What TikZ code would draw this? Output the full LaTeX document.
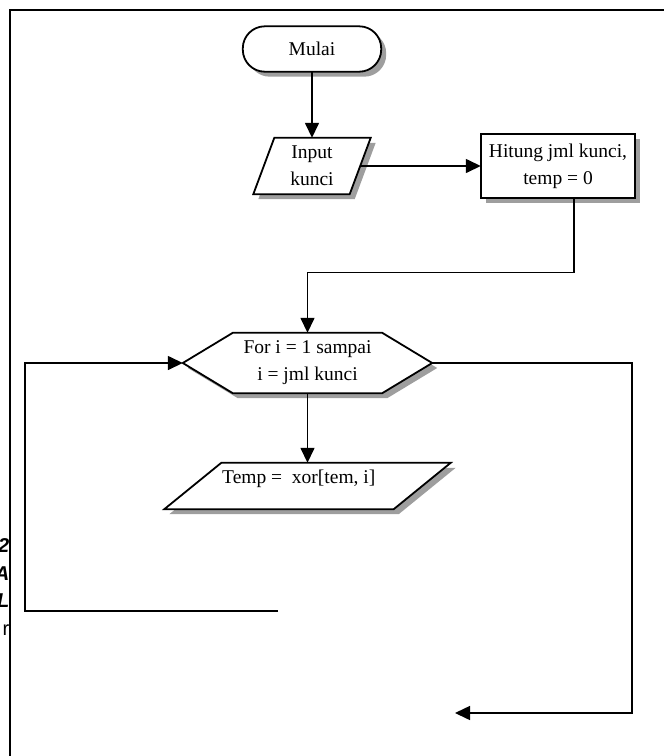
\documentclass[tikz,border=0pt]{standalone}
\usepackage{fontspec}
\setmainfont{Liberation Serif}
\newfontfamily\fragfont{Liberation Sans}
\usetikzlibrary{arrows.meta,positioning}
\pgfdeclarelayer{back}
\pgfsetlayers{back,main}
\tikzset{
	arr/.style={line width=1.5pt,-{Triangle[length=15pt,width=14pt]}},
	frame/.style={line width=2pt},
	txt/.style={font=\fontsize{19.5}{27}\selectfont,align=center,inner sep=0pt},
	frag/.style={font=\fragfont\fontsize{20}{24}\selectfont,inner sep=0pt},
	outline/.style={draw,line width=1.8pt,fill=white},
	shade/.style={fill=black!38,transform canvas={shift={(5pt,-5pt)}}}
}
% outlines of the flowchart boxes, drawn once as shadow and once as box
\newcommand{\boxpaths}[1]{%
	\path[#1,rounded corners=22pt] (mulai.north west) rectangle (mulai.south east);
	\path[#1] ([xshift=10.5pt]inp.north west) -- ([xshift=10.5pt]inp.north east)
		-- ([xshift=-10.5pt]inp.south east) -- ([xshift=-10.5pt]inp.south west) -- cycle;
	\path[#1] (hit.north west) rectangle (hit.south east);
	\path[#1] (loop.west) -- ([xshift=50pt]loop.north west) -- ([xshift=-50pt]loop.north east)
		-- (loop.east) -- ([xshift=-50pt]loop.south east) -- ([xshift=50pt]loop.south west) -- cycle;
	\path[#1] ([xshift=28.5pt]tmp.north west) -- ([xshift=28.5pt]tmp.north east)
		-- ([xshift=-28.5pt]tmp.south east) -- ([xshift=-28.5pt]tmp.south west) -- cycle;
}

\begin{document}
\begin{tikzpicture}[x=1pt,y=-1pt]
	\useasboundingbox (0,0) rectangle (664,756);

	% nodes
	\node[txt,minimum width=138pt,minimum height=45pt] (mulai) at (312,49) {Mulai};
	\node[txt,minimum width=96pt,minimum height=56pt] (inp) at (312,166) {Input\\kunci};
	\node[txt,minimum width=154pt,minimum height=63pt] (hit) at (558,166) {Hitung jml kunci,\\temp = 0};
	\node[txt,minimum width=249pt,minimum height=60pt] (loop) at (307.5,363) {For i = 1 sampai\\i = jml kunci};
	\node[txt,minimum width=229pt,minimum height=46pt] (tmp) at (307.5,486) {};
	\node[txt,anchor=base west] (tmplbl) at (222,483) {Temp =\ \ xor[tem, i]};

	\begin{pgfonlayer}{back}
		\boxpaths{shade}
		\boxpaths{outline}
	\end{pgfonlayer}

	% loose ends of the loop lines
	\coordinate (rgtcorner) at (632,713);
	\coordinate (rgtend) at (455,713);
	\coordinate (lftstart) at (278,611);
	\coordinate (lftcorner) at (25,611);

	% connectors
	\draw[arr] (mulai) -- (inp);
	\draw[arr] (inp.east) -- (hit.west);
	\draw[arr] ([xshift=16pt]hit.south) -- ++(0,75) -| (loop.north);
	\draw[arr] (loop) -- (tmp);
	\draw[arr] (loop.east) -| (rgtcorner) -- (rgtend);
	\draw[arr] (lftstart) -- (lftcorner) |- (loop.west);

	% page frame and cut-off text on the left
	\draw[frame] (9.5,756) -- (9.5,10) -- (664,10);
	\begin{scope}
		\clip (0,0) rectangle (8.5,756);
		\node[frag,anchor=base east] (frag1) at (9.5,552) {\bfseries\itshape 2};
		\node[frag,anchor=base east] (frag2) at (9.5,580) {\bfseries\itshape A};
		\node[frag,anchor=base east] (frag3) at (9.5,607) {\bfseries\itshape L};
		\node[frag,anchor=base east] (frag4) at (9.5,635) {r};
	\end{scope}
\end{tikzpicture}
\end{document}
